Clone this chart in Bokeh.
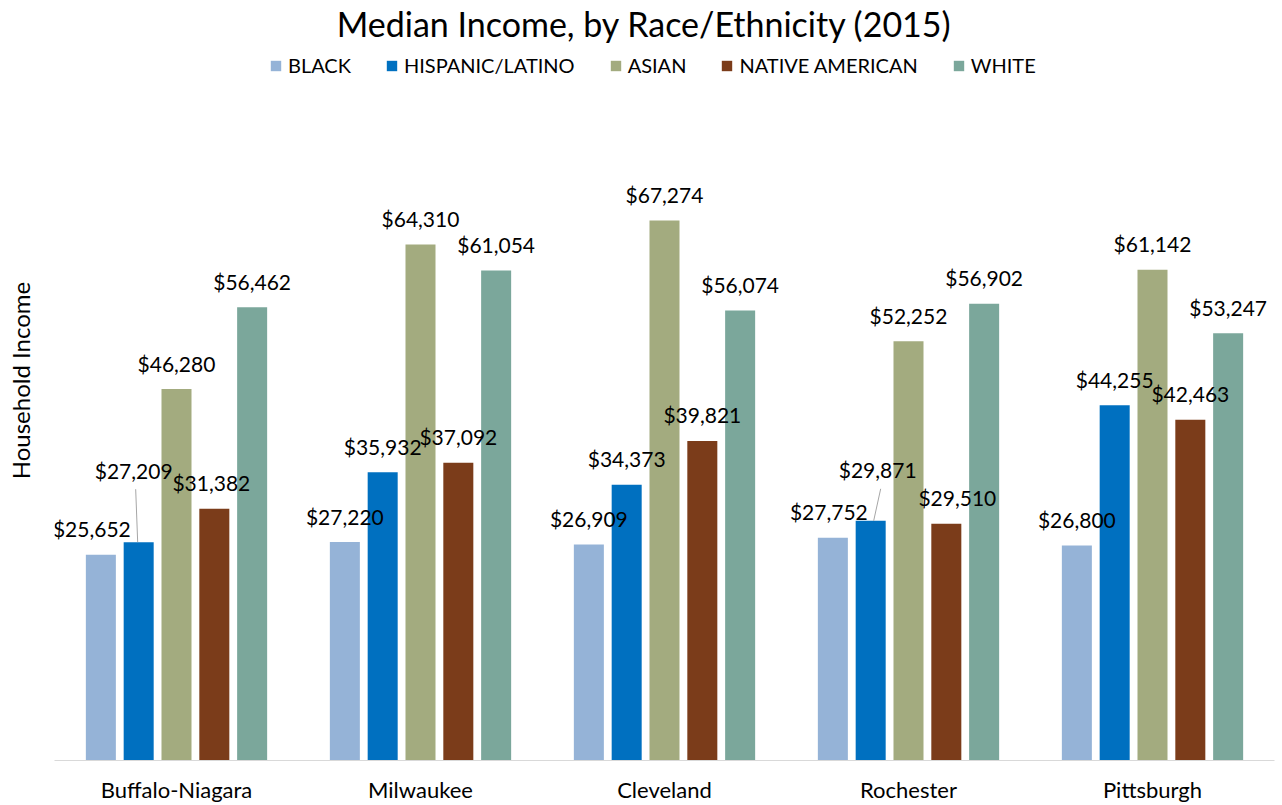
from bokeh.plotting import figure
from bokeh.models import ColumnDataSource, FactorRange, Range1d, LabelSet, Label, Legend, LegendItem, FixedTicker
from bokeh.transform import dodge
from bokeh.core.properties import value
from bokeh.embed import file_html
from bokeh.resources import INLINE

# ---- data ----
cities = ["Buffalo-Niagara", "Milwaukee", "Cleveland", "Rochester", "Pittsburgh"]
groups = ["BLACK", "HISPANIC/LATINO", "ASIAN", "NATIVE AMERICAN", "WHITE"]
black = [25652, 27220, 26909, 27752, 26800]
hispanic = [27209, 35932, 34373, 29871, 44255]
asian = [46280, 64310, 67274, 52252, 61142]
native = [31382, 37092, 39821, 29510, 42463]
white = [56462, 61054, 56074, 56902, 53247]
series = [black, hispanic, asian, native, white]
colors = ["#95B3D7", "#0070C0", "#A3AB7F", "#7B3C1A", "#7BA79B"]

# ---- layout ----
FONT = "Lato"
W, H = 1280, 805
FRAME_W, FRAME_H = 1220, 761
Y_MAX = 94700
STEP = 0.155
BAR_W = 0.123
STD_DY = 26
# label nudges (px): (group, city) -> (dx, dy)
nudges = {(0, 0): (-9, 26), (1, 0): (-5, 72), (3, 0): (-3, 26),
          (0, 3): (-4, 26), (1, 3): (7, 51), (3, 3): (11, 26)}
# leader lines (px offsets from bar centre): (group, city) -> (dx_bottom, dx_top)
leaders = {(1, 0): (-1, -3), (1, 3): (3, 10)}

p = figure(x_range=FactorRange(*cities, range_padding=0), y_range=Range1d(0, Y_MAX),
           width=W, height=H, output_backend="svg", toolbar_location=None,
           min_border_left=54, min_border_right=6, min_border_top=0, min_border_bottom=0)
p.outline_line_color = None
p.xgrid.visible = False
p.ygrid.visible = False
p.background_fill_color = "white"
p.border_fill_color = "white"

ya = p.yaxis[0]
ya.ticker = FixedTicker(ticks=[])
ya.axis_line_color = None
ya.major_tick_line_color = None
ya.minor_tick_line_color = None
ya.major_tick_out = 0
ya.major_label_standoff = 0
ya.axis_label = "Household Income"
ya.axis_label_standoff = 20
ya.axis_label_text_font = FONT
ya.axis_label_text_font_size = "24px"
ya.axis_label_text_font_style = "normal"
ya.axis_label_text_color = "#000000"

ax = p.xaxis[0]
ax.axis_line_color = "#D9D9D9"
ax.axis_line_width = 1
ax.major_tick_line_color = None
ax.minor_tick_line_color = None
ax.major_tick_out = 0
ax.major_label_standoff = 15
ax.major_label_text_font = FONT
ax.major_label_text_font_size = "22px"
ax.major_label_text_color = "#000000"

items = []
upp = Y_MAX / FRAME_H
for gi, (g, vals, col) in enumerate(zip(groups, series, colors)):
    off = (gi - 2) * STEP
    dxs = [nudges.get((gi, ci), (0, STD_DY))[0] for ci in range(len(cities))]
    dys = [nudges.get((gi, ci), (0, STD_DY))[1] for ci in range(len(cities))]
    src = ColumnDataSource(dict(city=cities, v=vals,
                                lab=["${:,}".format(v) for v in vals], dx=dxs, dy=dys))
    r = p.vbar(x=dodge("city", off, range=p.x_range), top="v", width=BAR_W,
               source=src, fill_color=col, line_color=None)
    items.append(LegendItem(label=g, renderers=[r]))
    p.add_layout(LabelSet(x=dodge("city", off, range=p.x_range), y="v", text="lab",
                          x_offset="dx", y_offset="dy", source=src,
                          text_align="center", text_baseline="middle",
                          text_font=value(FONT), text_font_size=value("21px"),
                          text_color="#000000"))
    for ci in range(len(cities)):
        if (gi, ci) in leaders:
            db, dt = leaders[(gi, ci)]
            a = db / FRAME_W * len(cities)
            b = dt / FRAME_W * len(cities)
            s = ColumnDataSource(dict(c=[cities[ci]], y0=[vals[ci]],
                                      y1=[vals[ci] + (nudges[(gi, ci)][1] - 19) * upp]))
            p.segment(x0=dodge("c", off + a, range=p.x_range), y0="y0",
                      x1=dodge("c", off + b, range=p.x_range), y1="y1",
                      source=s, line_color="#A6A6A6", line_width=1)

legend = Legend(items=items, orientation="horizontal", location=(215, 683),
                glyph_width=13, glyph_height=13, label_standoff=6, spacing=34, padding=0,
                margin=0, border_line_color=None, background_fill_alpha=0,
                label_text_font=FONT, label_text_font_size="20px", label_text_color="#000000")
p.add_layout(legend)

p.add_layout(Label(x=590, y=737, x_units="screen", y_units="screen",
                   text="Median Income, by Race/Ethnicity (2015)", text_align="center",
                   text_baseline="middle", text_font=FONT, text_font_size="34px",
                   text_color="#000000"))

open("out.html", "w").write(file_html(p, INLINE))
